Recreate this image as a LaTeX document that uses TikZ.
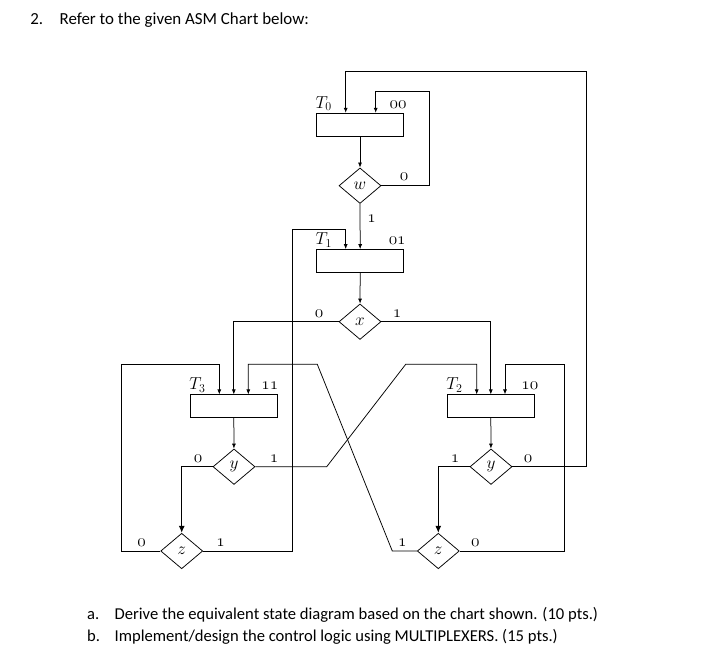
\documentclass[tikz,border=0pt]{standalone}
\usepackage{fontspec}
\newfontfamily\calibri{Carlito}
\usetikzlibrary{arrows.meta}
\usetikzlibrary{positioning}
\usetikzlibrary{shapes.geometric}

\begin{document}
\begin{tikzpicture}
    [
    x=1pt,y=-1pt,line width=0.75pt,
    state/.style={rectangle,draw,minimum width=87pt,minimum height=23pt,inner sep=0pt},
    cond/.style={diamond,draw,minimum width=42pt,minimum height=35.5pt,inner sep=0pt,font=\LARGE},
    arr/.style={-{Latex[length=5pt,width=4pt]}},
    bigarr/.style={line width=1.1pt,-{Latex[length=7pt,width=6pt]}},
    tag/.style={font=\LARGE,inner sep=0pt},
    txt/.style={font=\calibri\fontsize{16.6}{20}\selectfont,anchor=base west,inner sep=0pt}
    ]
    \useasboundingbox (0,0) rectangle (727,662);

    % question text
    \node (qn) at (30,24) [txt,font=\calibri\fontsize{16.9}{20}\selectfont] {2.};
    \node (qt) at (59.3,24) [txt,font=\calibri\fontsize{16.9}{20}\selectfont] {Refer to the given ASM Chart below:};
    \node (pa) at (86.7,619) [txt] {a.};
    \node (ta) at (114.3,619) [txt] {Derive the equivalent state diagram based on the chart shown. (10 pts.)};
    \node (pb) at (86.7,641) [txt] {b.};
    \node (tb) at (114.3,641) [txt] {Implement/design the control logic using MULTIPLEXERS. (15 pts.)};

    % states
    \node (T0) at (360,124.7) [state,
      label={[tag,anchor=base west,xshift=-1pt,yshift=4.5pt]north west:$T_0$},
      label={[tag,anchor=base east,xshift=3pt,yshift=4.5pt]north east:$\mathnormal{00}$}] {};
    \node (T1) at (360.2,261) [state,
      label={[tag,anchor=base west,xshift=-1pt,yshift=4.5pt]north west:$T_1$},
      label={[tag,anchor=base east,xshift=2pt,yshift=4.5pt]north east:$\mathnormal{01}$}] {};
    \node (T3) at (233.8,406.3) [state,
      label={[tag,anchor=base west,xshift=-1pt,yshift=4.5pt]north west:$T_3$},
      label={[tag,anchor=base east,xshift=1pt,yshift=4.5pt]north east:$\mathnormal{11}$}] {};
    \node (T2) at (490.8,406.3) [state,
      label={[tag,anchor=base west,xshift=-1pt,yshift=4.5pt]north west:$T_2$},
      label={[tag,anchor=base east,xshift=4pt,yshift=4.5pt]north east:$\mathnormal{10}$}] {};

    % decisions
    \node (w) at (360,185.7) [cond] {$w$};
    \node (x) at (360,321.7) [cond] {$x$};
    \node (y3) at (234,466.7) [cond] {$y$};
    \node (z3) at (181.7,551) [cond] {$z$};
    \node (y2) at (491,466.7) [cond] {$y$};
    \node (z2) at (438.3,551) [cond] {$z$};

    % branch values
    \node (w0) [tag, above right=5pt and 18pt of w.east] {$\mathnormal{0}$};
    \node (w1) [tag, below right=11pt and 7pt of w.south] {$\mathnormal{1}$};
    \node (x0) [tag, above left=4pt and 15pt of x.west] {$\mathnormal{0}$};
    \node (x1) [tag, above right=4pt and 11pt of x.east] {$\mathnormal{1}$};
    \node (y30) [tag, above left=4pt and 10pt of y3.west] {$\mathnormal{0}$};
    \node (y31) [tag, above right=4pt and 14pt of y3.east] {$\mathnormal{1}$};
    \node (z30) [tag, above left=4pt and 14pt of z3.west] {$\mathnormal{0}$};
    \node (z31) [tag, above right=4pt and 13pt of z3.east] {$\mathnormal{1}$};
    \node (y21) [tag, above left=4pt and 10pt of y2.west] {$\mathnormal{1}$};
    \node (y20) [tag, above right=4pt and 11pt of y2.east] {$\mathnormal{0}$};
    \node (z21) [tag, above left=4pt and 10pt of z2.west] {$\mathnormal{1}$};
    \node (z20) [tag, above right=4pt and 11pt of z2.east] {$\mathnormal{0}$};

    % corners of the loops
    \coordinate (c0) at (586.7,71);
    \coordinate (c1) at (429.3,91);
    \coordinate (c2) at (292.3,229.3);
    \coordinate (c3) at (121.7,364.3);
    \coordinate (c4) at (326.7,466.7);
    \coordinate (c5) at (405.7,364.3);
    \coordinate (c6) at (392.3,551);
    \coordinate (c7) at (317.3,364.3);
    \coordinate (c8) at (564,364.3);

    \draw [arr] (T0) to (w);
    \draw [arr] (w) to (T1);
    \draw [arr] (T1) to (x);
    \draw [arr] (T3) to (y3);
    \draw [arr] (T2) to (y2);
    \draw [arr] (w.east) -| (c1) -| ([xshift=15.7pt]T0.north);
    \draw [arr] (x.west) -| (T3.north);
    \draw [arr] (x.east) -| (T2.north);
    \draw [bigarr] (y3.west) -| (z3.north);
    \draw [bigarr] (y2.west) -| (z2.north);
    \draw [arr] (z3.west) -| (c3) -| ([xshift=-14.5pt]T3.north);
    \draw [arr] (z3.east) -| (c2) -| ([xshift=-14.5pt]T1.north);
    \draw [arr] (y3.east) -- (c4) -- (c5) -| ([xshift=-14.1pt]T2.north);
    \draw [arr] (y2.east) -| (c0) -| ([xshift=-14.3pt]T0.north);
    \draw [arr] (z2.west) -- (c6) -- (c7) -| ([xshift=14.5pt]T3.north);
    \draw [arr] (z2.east) -| (c8) -| ([xshift=14.2pt]T2.north);
  \end{tikzpicture}
\end{document}
